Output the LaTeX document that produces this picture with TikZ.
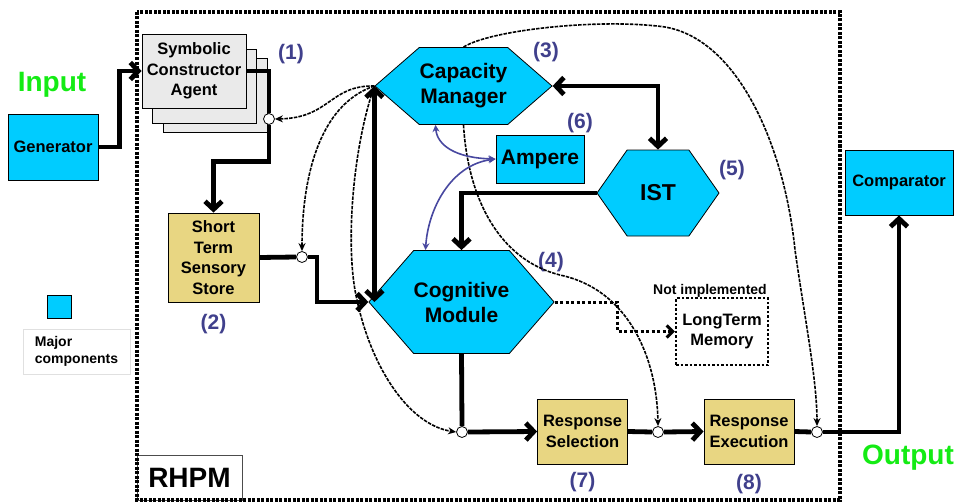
\documentclass[tikz,border=0pt]{standalone}
\usepackage{fontspec}
\setmainfont{Liberation Sans}
\usetikzlibrary{arrows.meta,positioning,calc,shapes.symbols}
\definecolor{compcyan}{RGB}{0,204,255}
\definecolor{stagetan}{RGB}{232,214,130}
\definecolor{agentgray}{RGB}{234,234,234}
\definecolor{numblue}{RGB}{64,64,140}
\definecolor{linkblue}{RGB}{72,72,160}
\definecolor{labelgreen}{RGB}{20,235,20}
\newcommand{\bigfont}{\fontsize{21}{25}\selectfont\bfseries}
\newcommand{\boxfont}{\fontsize{16.5}{20.5}\selectfont\bfseries}

\begin{document}
\begin{tikzpicture}[
  x=1pt, y=-1pt,
  comp/.style={rectangle, draw, line width=0.8pt, fill=compcyan, align=center,
    font=\boxfont, inner sep=0pt},
  stage/.style={rectangle, draw, line width=0.8pt, fill=stagetan, align=center,
    font=\boxfont, inner sep=0pt, minimum width=90pt, minimum height=65pt},
  agent/.style={rectangle, draw, line width=0.8pt, fill=agentgray, align=center,
    font=\boxfont, inner sep=0pt, minimum width=104pt, minimum height=74pt},
  hexa/.style={signal, signal to=west and east, draw, line width=0.8pt,
    fill=compcyan, align=center, font=\bigfont, inner sep=0pt},
  num/.style={text=numblue, font=\fontsize{21}{25}\selectfont\bfseries},
  tag/.style={text=labelgreen, font=\fontsize{28}{32}\selectfont\bfseries},
  joint/.style={circle, draw, fill=white, inner sep=0pt, minimum size=11pt,
    line width=0.8pt},
  thk/.style={line width=4.8pt, -{Straight Barb[length=8pt,width=17pt]}},
  cue/.style={line width=1.6pt, dash pattern=on 3.5pt off 1.2pt,
    -{Stealth[length=8pt,width=7pt]}},
  link/.style={linkblue, line width=1.6pt,
    {Stealth[length=7pt,width=7pt]}-{Stealth[length=7pt,width=7pt]}},
  nimp/.style={line width=3pt, dash pattern=on 3pt off 2.5pt},
  rhpmframe/.style={line width=3.5pt, dash pattern=on 3pt off 1.5pt}
]
  \useasboundingbox (0,0) rectangle (960,503);
  % outside the model
  \node[comp, minimum width=90pt, minimum height=66pt] (Gen) at (53,147) {Generator};
  \node[comp, minimum width=108pt, minimum height=65pt] (Comp) at (899,182.5) {Comparator};
  \node[tag] (Input) at (52,85) {Input};
  \node[tag] (Output) at (908,458) {Output};
  \node[comp, minimum width=24pt, minimum height=23pt] (Key) at (59,306.5) {};
  \node[draw=black!12, line width=1pt, minimum width=107pt, minimum height=45pt,
    align=left, font=\fontsize{14}{17}\selectfont\bfseries] (KeyText) at (76.5,351.5)
    {Major\\components};
  %
  \node[draw=black!70, fill=white, line width=0.8pt, minimum width=105pt,
    minimum height=45pt, font=\fontsize{28}{32}\selectfont\bfseries] (RHPM)
    at (189.5,477.5) {RHPM};
  \draw[rhpmframe] (137,12) rectangle (840,500);
  % components
  \node[agent] (SCA3) at (215,95) {};
  \node[agent] (SCA2) at (204,86) {};
  \node[agent] (SCA) at (194,71) {Symbolic\\Constructor\\Agent};
  \node[stage, minimum width=91pt, minimum height=89pt] (STS) at (213.5,257.5)
    {Short\\Term\\Sensory\\Store};
  \node[hexa, minimum width=177pt, minimum height=77pt, signal pointer angle=82]
    (CM) at (463.5,86) {Capacity\\Manager};
  \node[hexa, minimum width=177pt, minimum height=103pt, signal pointer angle=98]
    (Cog) at (461.5,302) {Cognitive\\Module};
  \node[hexa, minimum width=122pt, minimum height=86pt, signal pointer angle=110,
    font=\fontsize{23}{27}\selectfont\bfseries] (IST) at (658,193) {IST};
  \node[comp, minimum width=88pt, minimum height=48pt, font=\bigfont] (Amp)
    at (540,159) {Ampere};
  \node[stage] (RS) at (582.5,431.5) {Response\\Selection};
  \node[stage] (RE) at (749,431.5) {Response\\Execution};
  \node[draw, line width=2.5pt, dash pattern=on 2.5pt off 2pt, minimum width=92pt,
    minimum height=67pt, align=center, font=\boxfont] (LTM) at (722,331.5)
    {LongTerm\\Memory};
  \node[font=\fontsize{14}{17}\selectfont\bfseries] (NotImpl) at (710,291)
    {Not implemented};
  %
  \node[num] at (291,54) {(1)};
  \node[num, below=8pt of STS] {(2)};
  \node[num] at (546,52) {(3)};
  \node[num] at (551,262) {(4)};
  \node[num] at (732,170) {(5)};
  \node[num] at (580,123) {(6)};
  \node[num, below=4pt of RS] {(7)};
  \node[num, below=6pt of RE] {(8)};
  % junctions
  \node[joint] (J1) at (269,119) {};
  \node[joint] (J2) at (302,257) {};
  \node[joint] (J3) at (462,432) {};
  \node[joint] (J4) at (658,432) {};
  \node[joint] (J5) at (817,432) {};
  % main flow
  \draw[thk] (Gen.east) -- ++(21,0) |- (SCA.west);
  \draw[thk, -] (SCA.east) -| (J1.north);
  \draw[thk] (J1.south) |- ($(STS.north)+(0,-51)$) -- (STS.north);
  \draw[thk, -] (STS.east) -- (J2.west);
  \draw[thk] (J2.east) -- ++(9,0) |- (Cog.west);
  \draw[thk, {Straight Barb[length=8pt,width=17pt]}-{Straight Barb[length=8pt,width=17pt]}]
    (CM.west) -- (CM.west |- Cog.west);
  \draw[thk, {Straight Barb[length=8pt,width=17pt]}-{Straight Barb[length=8pt,width=17pt]}]
    (CM.east) -| (IST.north);
  \draw[thk] (IST.west) -| (Cog.north);
  \draw[thk, -] (Cog.south) -- (J3.north);
  \draw[thk] (J3.east) -- (RS.west);
  \draw[thk, -] (RS.east) -- (J4.west);
  \draw[thk] (J4.east) -- (RE.west);
  \draw[thk, -] (RE.east) -- (J5.west);
  \draw[thk] (J5.east) -| (Comp.south);
  \draw[nimp, -{Straight Barb[length=6pt,width=12pt]}] (Cog.east) -- ++(63,0) |- (LTM.west);
  % control cues
  \draw[cue] (CM.west) .. controls (330,85) and (330,118) .. (J1.east);
  \draw[cue] (CM.west) .. controls (318,105) and (302,180) .. (J2.north);
  \draw[cue] (CM.west) .. controls (352,150) and (345,250) .. (357,300)
    .. controls (372,370) and (410,425) .. (J3.west);
  \draw[cue] (CM.north) .. controls (490,30) and (600,18) .. (665,27)
    .. controls (740,40) and (785,150) .. (795,250)
    .. controls (805,320) and (817,380) .. (J5.north);
  \draw[cue] (CM.south) .. controls (468,200) and (500,260) .. (560,275)
    .. controls (630,290) and (657,360) .. (J4.north);
  \draw[link] ([xshift=-28pt]CM.south) .. controls (437,145) and (455,158) .. (Amp.west);
  \draw[link] ([xshift=-36pt]Cog.north) .. controls (428,210) and (450,165) .. (Amp.west);
\end{tikzpicture}
\end{document}
